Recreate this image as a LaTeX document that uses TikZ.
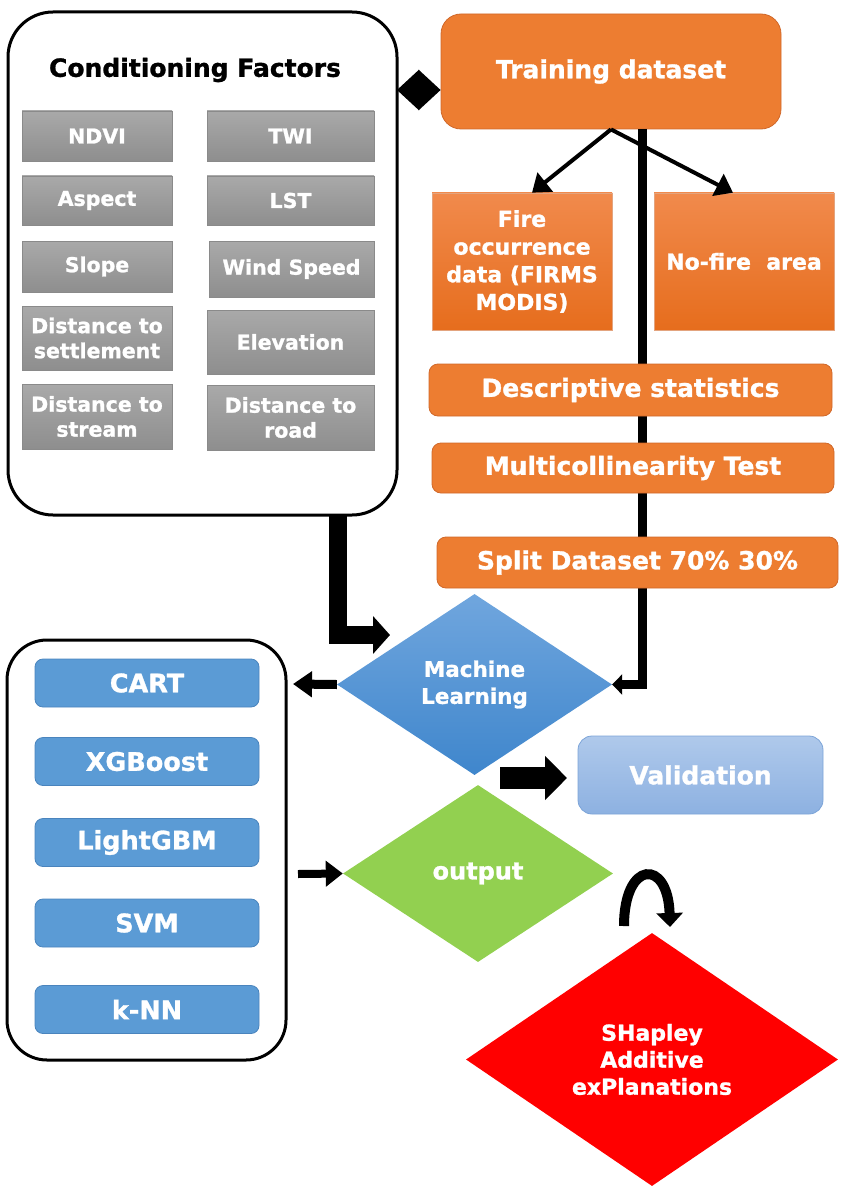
\documentclass[tikz,border=0pt]{standalone}
\usepackage{fontspec}
\setmainfont{DejaVu Sans}[BoldFeatures={FakeBold=1.2}]
\usetikzlibrary{arrows.meta,shapes.geometric}
\tikzset{>=latex}
\definecolor{orng}{HTML}{ED7D31}
\definecolor{orngline}{HTML}{D0682A}
\definecolor{orngtop}{HTML}{F18A4C}
\definecolor{orngbot}{HTML}{E66D1D}
\definecolor{graytop}{HTML}{A9A9A9}
\definecolor{graybot}{HTML}{8E8E8E}
\definecolor{grayline}{HTML}{8A8A8A}
\definecolor{mblue}{HTML}{5B9BD5}
\definecolor{mblueline}{HTML}{4A84BD}
\definecolor{mltop}{HTML}{70A6DE}
\definecolor{mlbot}{HTML}{3F86CC}
\definecolor{valtop}{HTML}{AFC9EB}
\definecolor{valbot}{HTML}{8DB1E1}
\definecolor{valline}{HTML}{7CA4D8}
\definecolor{outgreen}{HTML}{92D050}
\definecolor{shapred}{HTML}{FF0000}
\tikzset{
  factor/.style={draw=grayline, line width=0.8pt, top color=graytop, bottom color=graybot,
    inner sep=0pt, text=white, align=center, font=\fontsize{20.5}{25}\selectfont\bfseries},
  dataflat/.style={draw=orngline, line width=0.8pt, fill=orng, inner sep=0pt, text=white,
    align=center, rounded corners=9pt, font=\fontsize{25}{30}\selectfont\bfseries},
  datagrad/.style={draw=orngline!60, line width=0.6pt, top color=orngtop, bottom color=orngbot,
    inner sep=0pt, text=white, align=center, minimum width=180pt, minimum height=137pt,
    font=\fontsize{22}{27.7}\selectfont\bfseries},
  model/.style={draw=mblueline, line width=0.8pt, fill=mblue, inner sep=0pt, text=white,
    rounded corners=8pt, minimum width=224pt, minimum height=48pt,
    font=\fontsize{25.5}{30}\selectfont\bfseries},
  decision/.style={diamond, inner sep=0pt, text=white, align=center,
    font=\fontsize{21.5}{27}\selectfont\bfseries},
  panel/.style={draw, line width=3pt, inner sep=0pt},
  link/.style={line width=4pt, -{Triangle[length=17pt,width=24pt]}},
  fatlink/.style={line width=#1, line join=miter},
}

\begin{document}
\begin{tikzpicture}[x=1pt,y=-1pt]
\useasboundingbox (0,0) rectangle (851,1193);

\node[panel, rounded corners=45pt, minimum width=389pt, minimum height=503pt] (cf) at (202.5,263.5) {};
\node[font=\fontsize{25}{30}\selectfont\bfseries] (cftitle) at (195,70) {Conditioning Factors};

\node[factor, minimum width=150pt, minimum height=50pt] (ndvi) at (97,136) {NDVI};
\node[factor, minimum width=167pt, minimum height=50pt] (twi) at (290.5,136) {TWI};
\node[factor, minimum width=150pt, minimum height=49pt] (aspect) at (97,200.5) {Aspect};
\node[factor, minimum width=167pt, minimum height=49pt] (lst) at (290.5,200.5) {LST};
\node[factor, minimum width=150pt, minimum height=51pt] (slope) at (97,266.5) {Slope};
\node[factor, minimum width=165pt, minimum height=56pt] (wind) at (291.5,269) {Wind Speed};
\node[factor, minimum width=150pt, minimum height=64pt] (settle) at (97,338) {Distance to\\settlement};
\node[factor, minimum width=167pt, minimum height=64pt] (elev) at (290.5,342) {Elevation};
\node[factor, minimum width=150pt, minimum height=65pt] (stream) at (97,416.5) {Distance to\\stream};
\node[factor, minimum width=167pt, minimum height=65pt] (road) at (290.5,417.5) {Distance to\\road};

\node[dataflat, rounded corners=20pt, minimum width=340pt, minimum height=115pt] (train) at (611,71.5) {Training dataset};
\node[datagrad] (fire) at (522,261.5) {Fire\\occurrence\\data (FIRMS\\MODIS)};
\node[datagrad] (nofire) at (744,261.5) {No-fire\ \ area};

\node[decision, top color=mltop, bottom color=mlbot, minimum width=275pt, minimum height=181pt] (ml) at (474.5,684.5) {Machine\\Learning};
\node[decision, fill=outgreen, minimum width=270pt, minimum height=177pt,
  font=\fontsize{24}{29}\selectfont\bfseries] (output) at (478,873.5) {output};
\node[decision, fill=shapred, minimum width=372pt, minimum height=253pt,
  font=\fontsize{22}{27}\selectfont\bfseries] (shap) at (652,1059.5) {SHapley\\Additive\\exPlanations};
\node[draw=valline, line width=0.8pt, top color=valtop, bottom color=valbot, rounded corners=14pt,
  inner sep=0pt, minimum width=245pt, minimum height=78pt, text=white,
  font=\fontsize{25}{30}\selectfont\bfseries] (val) at (700.5,775) {Validation};

\node[panel, rounded corners=40pt, minimum width=279pt, minimum height=420pt] (models) at (146.5,850) {};
\foreach \nm/\yy/\txt in {cart/683/CART, xgb/761.5/XGBoost, lgbm/842.5/LightGBM, svm/923/SVM, knn/1009.5/k-NN}
  \node[model] (\nm) at (147,\yy) {\txt};

\coordinate (trunk) at (642,129);
\draw[fatlink=9pt, -{Triangle[length=10pt,width=20pt]}] (trunk) |- (ml.east);

\node[dataflat, minimum width=403pt, minimum height=52pt] (desc) at (630.5,390) {Descriptive statistics};
\node[dataflat, minimum width=402pt, minimum height=50pt] (multi) at (633,468) {Multicollinearity Test};
\node[dataflat, minimum width=401pt, minimum height=51pt] (split) at (637.5,562.5) {Split Dataset 70\% 30\%};

\coordinate (cfr) at (397,90);
\draw[line width=3pt, {Triangle[length=22pt,width=40pt]}-{Triangle[length=22pt,width=40pt]}] (cfr) -- (cfr -| train.west);
\draw[link] (train.south) -- ([xshift=10pt]fire.north);
\draw[link] (train.south) -- ([xshift=-11pt]nofire.north);

\coordinate (cfout) at (338,515);
\coordinate (mlin) at (390,635);
\draw[fatlink=18pt, -{Triangle[length=17pt,width=37pt]}] (cfout) |- (mlin);
\coordinate (cartin) at (293,684);
\draw[line width=9pt, -{Triangle[length=19pt,width=25pt]}] (ml.west) -- (cartin);
\coordinate (outfrom) at (298,874);
\draw[line width=8pt, -{Triangle[length=17pt,width=25pt]}] (outfrom) -- (output.west);
\coordinate (mlout) at (500,778);
\coordinate (valin) at (567,778);
\draw[line width=22pt, -{Triangle[length=22pt,width=43pt]}] (mlout) -- (valin);
\coordinate (loopa) at (624,926);
\coordinate (loopb) at (670,927);
\draw[line width=10pt, -{Triangle[length=14pt,width=26pt]}] (loopa) .. controls (624,860) and (668,858) .. (loopb);
\end{tikzpicture}
\end{document}
